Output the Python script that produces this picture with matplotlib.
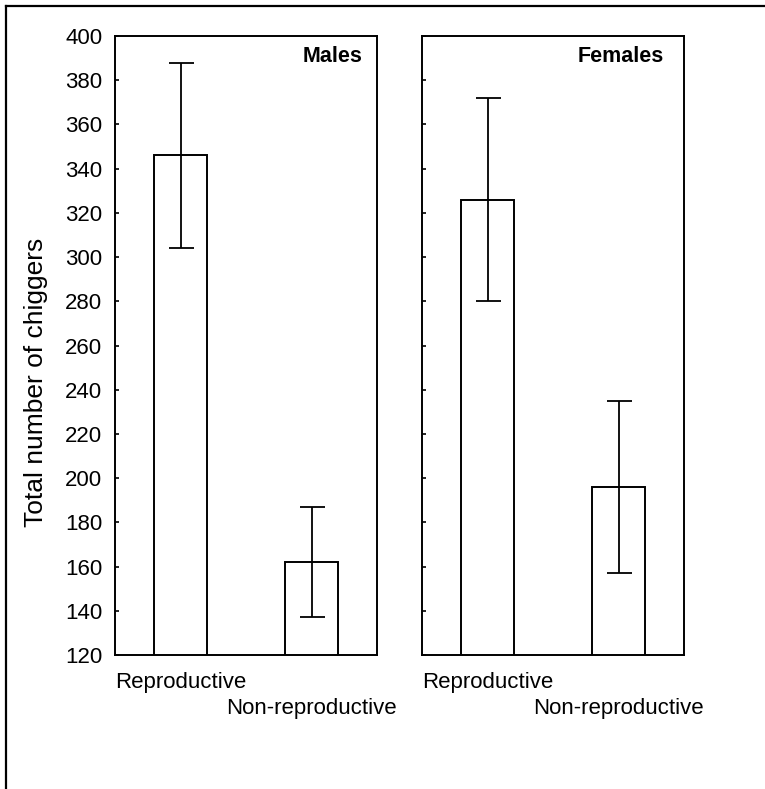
import matplotlib
matplotlib.use("Agg")
import matplotlib.pyplot as plt
from matplotlib.lines import Line2D

plt.rcParams['font.family'] = ['Liberation Sans', 'DejaVu Sans']

# data
groups = ["Reproductive", "Non-reproductive"]
panels = ["Males", "Females"]
means = {"Males": [346, 162], "Females": [326, 196]}
errs = {"Males": [42, 25], "Females": [46, 39]}
yticks = [120, 140, 160, 180, 200, 220, 240, 260, 280, 300, 320, 340, 360, 380, 400]

W, H = 765, 789
fig = plt.figure(figsize=(W / 100, H / 100), dpi=100)

# outer frame: only left and top sides show in the picture
fig.add_artist(Line2D([6.5 / W, 6.5 / W], [0, 1 - 5.5 / H], transform=fig.transFigure,
                      color='black', lw=1.6))
fig.add_artist(Line2D([6.5 / W, 1], [1 - 5.5 / H, 1 - 5.5 / H], transform=fig.transFigure,
                      color='black', lw=1.6))

lefts = [115, 422]
title_off = [15, 20]
x = list(range(len(groups)))

for i, name in enumerate(panels):
    ax = fig.add_axes([lefts[i] / W, 1 - 655 / H, 262 / W, 619 / H])
    ax.bar(x, means[name], width=0.405, color='white', edgecolor='black', linewidth=1.4,
           zorder=2)
    ax.errorbar(x, means[name], yerr=errs[name], fmt='none', ecolor='black',
                elinewidth=1.3, capsize=9, capthick=1.3, zorder=3)
    ax.set_xlim(-0.5, 1.5)
    ax.set_ylim(120, 400)
    ax.set_yticks(yticks)
    for s in ax.spines.values():
        s.set_linewidth(1.4)
    ax.tick_params(axis='y', direction='in', length=3, width=1.2, pad=9,
                   labelsize=16, left=True, right=False)
    if i > 0:
        ax.tick_params(axis='y', labelleft=False)
    ax.set_xticks(x)
    ax.set_xticklabels(groups, fontsize=16)
    ax.tick_params(axis='x', length=0, pad=12)
    ax.xaxis.get_major_ticks()[1].set_pad(31)
    ax.text(1 - title_off[i] / 262, 1 - 26.5 / 619, name, transform=ax.transAxes,
            ha='right', va='baseline', fontsize=15.5, fontweight='bold')

fig.text(36 / W, 1 - 382 / H, "Total number of chiggers", rotation=90,
         ha='center', va='center', fontsize=19)

fig.savefig("out.png", dpi=100)
